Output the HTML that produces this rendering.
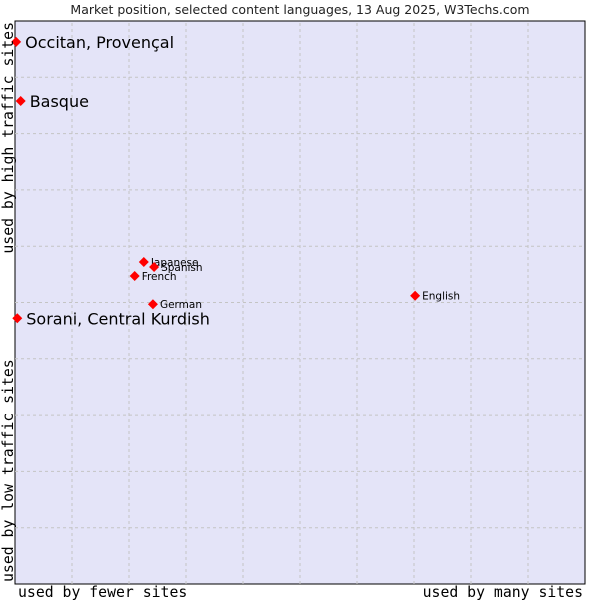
<!DOCTYPE html>
<html><head><meta charset="utf-8"><style>
body{margin:0;background:#fff;width:600px;height:600px;overflow:hidden}
svg text{font-family:"DejaVu Sans","Liberation Sans",sans-serif}
svg text.mono{font-family:"DejaVu Sans Mono","Liberation Mono",monospace}
</style></head><body>
<svg id="chart" width="600" height="600" xmlns="http://www.w3.org/2000/svg">
<text x="300" y="14" text-anchor="middle" font-size="12.5" fill="#222">Market position, selected content languages, 13 Aug 2025, W3Techs.com</text>
<rect x="15" y="21" width="570" height="563" fill="#e4e4f8" stroke="#000" stroke-width="1"/>
<g id="grid"></g>
<g id="marks"></g>
<text class="mono" x="18" y="597" font-size="14.8" fill="#000">used by fewer sites</text>
<text class="mono" x="583" y="597" text-anchor="end" font-size="14.8" fill="#000">used by many sites</text>
<text class="mono" transform="translate(13,22) rotate(-90)" text-anchor="end" font-size="14.8" fill="#000">used by high traffic sites</text>
<text class="mono" transform="translate(13,582) rotate(-90)" font-size="14.8" fill="#000">used by low traffic sites</text>
</svg>
<script>
const labels=["Occitan, Provençal","Basque","Sorani, Central Kurdish","Japanese","Spanish","French","German","English"];
const xValues=[0.02,0.1,0.04,2.26,2.44,2.1,2.42,7.02];
const yValues=[9.63,8.58,4.72,5.72,5.63,5.47,4.97,5.12];
const big=[true,true,true,false,false,false,false,false];
const NS="http://www.w3.org/2000/svg";
const X0=15,W=570,Y0=584,H=563;
const xs=v=>X0+v/10*W, ys=v=>Y0-v/10*H;
const grid=document.getElementById('grid');
for(let i=1;i<10;i++){
 let l=document.createElementNS(NS,'line');
 
 
 l.setAttribute('x1',xs(i));l.setAttribute('x2',xs(i));l.setAttribute('y1',Y0);l.setAttribute('y2',Y0-H);
 l.setAttribute('stroke','#c4c4c4');l.setAttribute('stroke-dasharray','3,3');grid.appendChild(l);
 let h=document.createElementNS(NS,'line');
 
 
 h.setAttribute('x1',X0);h.setAttribute('x2',X0+W);h.setAttribute('y1',ys(i));h.setAttribute('y2',ys(i));
 h.setAttribute('stroke','#c4c4c4');h.setAttribute('stroke-dasharray','3,3');grid.appendChild(h);
}
const marks=document.getElementById('marks');
labels.forEach((lab,i)=>{
 const x=xs(xValues[i]),y=ys(yValues[i]);
 const p=document.createElementNS(NS,'polygon');
 
 
 p.setAttribute('points',`${x-5},${y} ${x},${y-5} ${x+5},${y} ${x},${y+5}`);
 p.setAttribute('fill','#f00');marks.appendChild(p);
 const t=document.createElementNS(NS,'text');
 
 
 t.setAttribute('x',x+(big[i]?9:7));t.setAttribute('y',y+(big[i]?6:4));
 t.setAttribute('font-size',big[i]?16:10.5);t.setAttribute('fill','#000');
 t.textContent=lab;marks.appendChild(t);
});
</script>
</body></html>
